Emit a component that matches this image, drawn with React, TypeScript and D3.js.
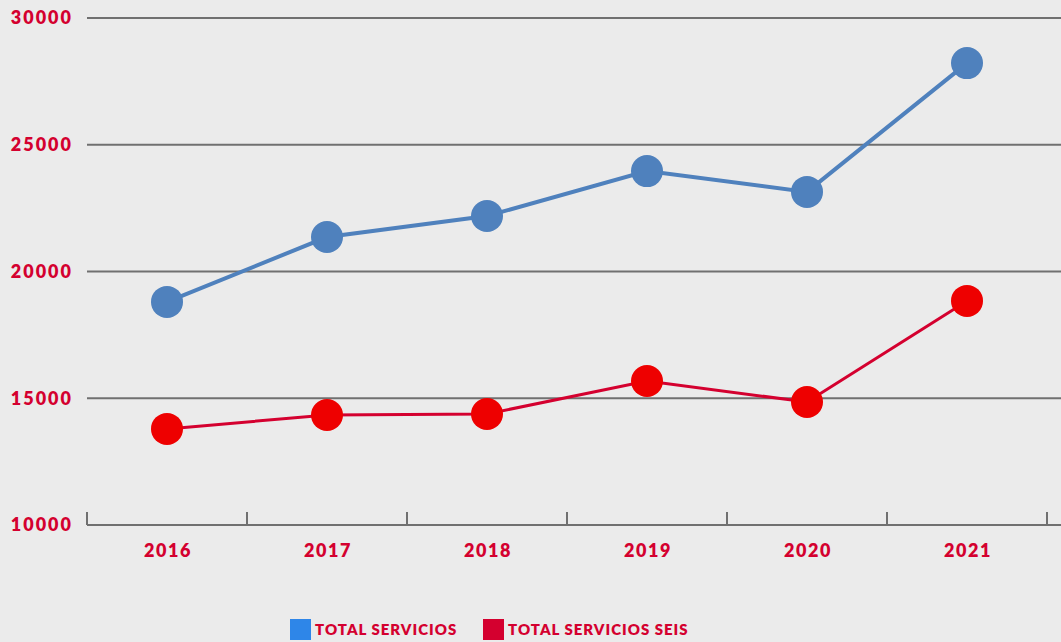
import React from 'react'
import * as d3 from 'd3'

const years = ['2016', '2017', '2018', '2019', '2020', '2021']
const totalServicios = [18800, 21360, 22190, 23960, 23140, 28220]
const totalServiciosSeis = [13790, 14340, 14380, 15680, 14850, 18840]
const yTicks = [10000, 15000, 20000, 25000, 30000]

const width = 1061
const height = 642
const red = '#d4002f'

export default function App() {
  const x = d3.scaleBand().domain(years).range([87, 1047])
  const y = d3.scaleLinear().domain([10000, 30000]).range([525, 18])
  const cx = (d: string) => (x(d) as number) + x.bandwidth() / 2

  const line = d3.line<number>()
    .x((d, i) => cx(years[i]))
    .y(d => y(d))

  const series = [
    { values: totalServicios, line: '#4f81bd', marker: '#4f81bd', width: 4 },
    { values: totalServiciosSeis, line: red, marker: '#ee0000', width: 3 },
  ]

  // tick positions: band edges
  const edges = years.map(d => x(d) as number).concat([1047])

  return (
    <svg width={width} height={height} style={{ position: 'absolute', left: 0, top: 0, background: '#ebebeb' }}
      fontFamily="Lato, 'Open Sans', sans-serif">
      <rect width={width} height={height} fill="#ebebeb" />
      {yTicks.map(t => (
        <g key={t}>
          {t > 10000 && <line x1={87} x2={width} y1={y(t)} y2={y(t)} stroke="#707070" strokeWidth={2} />}
          <text x={73} y={y(t)} dy="0.36em" textAnchor="end" fill={red} fontWeight={800} fontSize={18} letterSpacing={2}>{t}</text>
        </g>
      ))}
      <line x1={87} x2={width} y1={525} y2={525} stroke="#707070" strokeWidth={2} />
      {edges.map((e, i) => (
        <line key={i} x1={e} x2={e} y1={512} y2={525} stroke="#707070" strokeWidth={2} />
      ))}
      {years.map(d => (
        <text key={d} x={cx(d) + 1} y={551} dy="0.36em" textAnchor="middle" fill={red} fontWeight={800} fontSize={18} letterSpacing={1.5}>{d}</text>
      ))}
      {series.map((s, k) => (
        <g key={k}>
          <path d={line(s.values) as string} fill="none" stroke={s.line} strokeWidth={s.width} />
          {s.values.map((v, i) => (
            <circle key={i} cx={cx(years[i])} cy={y(v)} r={16} fill={s.marker} />
          ))}
        </g>
      ))}
      <rect x={290} y={619} width={21} height={21} fill="#2e86e8" />
      <text x={315} y={630} dy="0.36em" fill={red} fontWeight={800} fontSize={15} letterSpacing={1}>TOTAL SERVICIOS</text>
      <rect x={483} y={619} width={21} height={21} fill={red} />
      <text x={508} y={630} dy="0.36em" fill={red} fontWeight={800} fontSize={15} letterSpacing={1}>TOTAL SERVICIOS SEIS</text>
    </svg>
  )
}
